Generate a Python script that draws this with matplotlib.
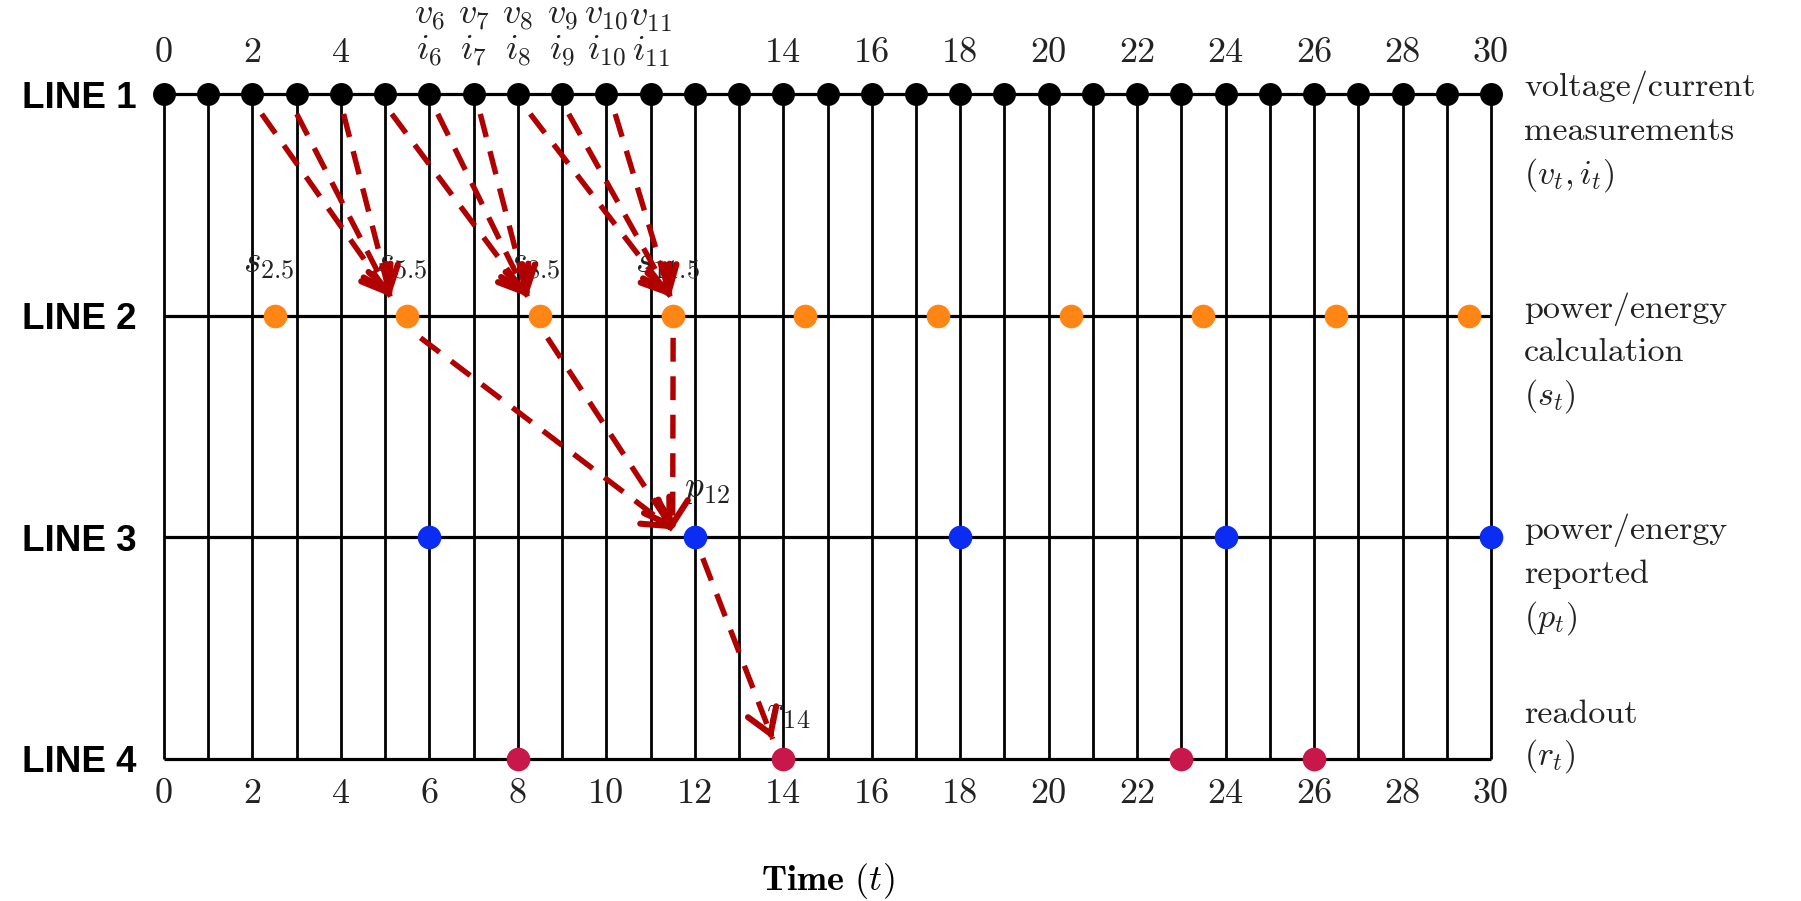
import matplotlib
matplotlib.use("Agg")
import matplotlib.pyplot as plt
import numpy as np

plt.rcParams['font.family'] = ['cmr10', 'DejaVu Serif']
plt.rcParams['mathtext.fontset'] = 'cm'
plt.rcParams['axes.unicode_minus'] = False
plt.rcParams['axes.formatter.use_mathtext'] = True

# ---------------- data ----------------
line_names = ['LINE 1', 'LINE 2', 'LINE 3', 'LINE 4']
line_levels = [3, 2, 1, 0]
time_grid = list(range(0, 31))
measure_t = list(range(0, 31))
calc_t = [2.5, 5.5, 8.5, 11.5, 14.5, 17.5, 20.5, 23.5, 26.5, 29.5]
report_t = [6, 12, 18, 24, 30]
readout_t = [8, 14, 23, 26]

bottom_ticks = list(range(0, 31, 2))
bottom_labels = [str(v) for v in bottom_ticks]
top_ticks = [0, 2, 4, 6, 7, 8, 9, 10, 11, 14, 16, 18, 20, 22, 24, 26, 28, 30]
top_labels = ['0', '2', '4',
              '$v_6$\n$i_6$', '$v_7$\n$i_7$', '$v_8$\n$i_8$', '$v_9$\n$i_9$',
              '$v_{10}$\n$i_{10}$', '$v_{11}$\n$i_{11}$',
              '14', '16', '18', '20', '22', '24', '26', '28', '30']

right_text = [
    ['voltage/current', 'measurements', '$(v_t, i_t)$'],
    ['power/energy', 'calculation', '$(s_t)$'],
    ['power/energy', 'reported', '$(p_t)$'],
    ['readout', '$(r_t)$'],
]

# labelled points: time, line level, label
point_label_t = [2.5, 5.5, 8.5, 11.5, 12, 14]
point_label_lvl = [2, 2, 2, 2, 1, 0]
point_label_txt = ['$s_{2.5}$', '$s_{5.5}$', '$s_{8.5}$', '$s_{11.5}$', '$p_{12}$', '$r_{14}$']

# data-flow arrows (start time, start level, end time, end level)
flow_t0 = [2.21, 3.0, 4.06, 5.15, 6.19, 7.15, 8.28, 9.15, 10.2, 5.8, 8.67, 11.51, 12.18]
flow_y0 = [2.91, 2.91, 2.91, 2.91, 2.91, 2.91, 2.91, 2.91, 2.91, 1.90, 1.90, 1.90, 0.906]
flow_t1 = [5.12, 5.12, 5.12, 8.22, 8.22, 8.22, 11.45, 11.45, 11.45, 11.5, 11.5, 11.5, 13.76]
flow_y1 = [2.086, 2.086, 2.086, 2.086, 2.086, 2.086, 2.086, 2.086, 2.086, 1.036, 1.036, 1.036, 0.09]

# ---------------- figure ----------------
W, H = 1801, 901
fig = plt.figure(figsize=(W / 100, H / 100), dpi=100)
ax = fig.add_axes([164 / W, (H - 759) / H, 1327 / W, (759 - 94) / H])
ax.set_xlim(0, 30)
ax.set_ylim(0, 3)
for s in ax.spines.values():
    s.set_visible(False)

# grid: verticals and horizontals
for t in time_grid:
    ax.plot([t, t], [0, 3], color='black', lw=2.0, zorder=1, clip_on=False,
            solid_capstyle='butt')
for lvl in line_levels:
    ax.plot([0, 30], [lvl, lvl], color='black', lw=2.3, zorder=1, clip_on=False,
            solid_capstyle='butt')

# points
ax.plot(measure_t, [3] * len(measure_t), 'o', color='black', ms=15.5, zorder=3, clip_on=False)
ax.plot(calc_t, [2] * len(calc_t), 'o', color='#ff8514', ms=16, zorder=3, clip_on=False)
ax.plot(report_t, [1] * len(report_t), 'o', color='#0b2cf2', ms=16, zorder=3, clip_on=False)
ax.plot(readout_t, [0] * len(readout_t), 'o', color='#c8174a', ms=16, zorder=3, clip_on=False)

# point labels
lab_dx = [-0.12, -0.12, -0.12, -0.12, 0.27, 0.1]
lab_dy = [0.227, 0.227, 0.227, 0.227, 0.218, 0.2]
for t, lvl, txt, dx, dy in zip(point_label_t, point_label_lvl, point_label_txt, lab_dx, lab_dy):
    ax.text(t + dx, lvl + dy, txt, fontsize=27, ha='center', va='center',
            color='#222222', zorder=2)

# arrows
arrow_col = '#b00000'
fig.canvas.draw()
for t0, y0, t1, y1 in zip(flow_t0, flow_y0, flow_t1, flow_y1):
    ax.plot([t0, t1], [y0, y1], color=arrow_col, lw=3.9, dashes=(4.4, 2.7),
            zorder=4, clip_on=False, solid_capstyle='butt', dash_capstyle='butt')
    p0 = ax.transData.transform((t0, y0))
    p1 = ax.transData.transform((t1, y1))
    d = (p1 - p0) / np.linalg.norm(p1 - p0)
    pb = ax.transData.inverted().transform(p1 - d * 6)
    ax.annotate('', xy=(t1, y1), xytext=(pb[0], pb[1]),
                arrowprops=dict(arrowstyle='->,head_length=0.5,head_width=0.32',
                                color=arrow_col, lw=4.4, shrinkA=0, shrinkB=0,
                                mutation_scale=34),
                zorder=5, annotation_clip=False)

# bottom ticks
ax.set_xticks(bottom_ticks)
ax.set_xticklabels(bottom_labels)
ax.tick_params(axis='x', length=0, pad=14, labelsize=26, colors='#222222')

# top ticks
sec = ax.secondary_xaxis('top')
sec.set_xticks(top_ticks)
sec.set_xticklabels(top_labels)
sec.tick_params(axis='x', length=0, pad=18, labelsize=26, colors='#222222')
for s in sec.spines.values():
    s.set_visible(False)
for lbl in sec.get_xticklabels():
    lbl.set_linespacing(1.05)

# line names as y tick labels
ax.set_yticks(line_levels)
ax.set_yticklabels(line_names)
ax.tick_params(axis='y', length=0, pad=20)
for lbl in ax.get_yticklabels():
    lbl.set_fontfamily('Liberation Sans')
    lbl.set_fontweight('bold')
    lbl.set_fontsize(26.5)

# right-hand descriptions
for lvl, rows in zip(line_levels, right_text):
    n = len(rows)
    for i, row in enumerate(rows):
        if lvl == 0:
            y = lvl + 0.012 + (n - 1 - i) * 0.19
        else:
            y = lvl + 0.03 - i * 0.197
        ax.text(30.75, y, row, fontsize=24.5, ha='left', va='center',
                color='#222222', clip_on=False)

# x label
ax.set_xlabel(r'$\mathbf{Time}$ $(t)$', fontsize=26, labelpad=37)

fig.savefig('out.png', dpi=100)
